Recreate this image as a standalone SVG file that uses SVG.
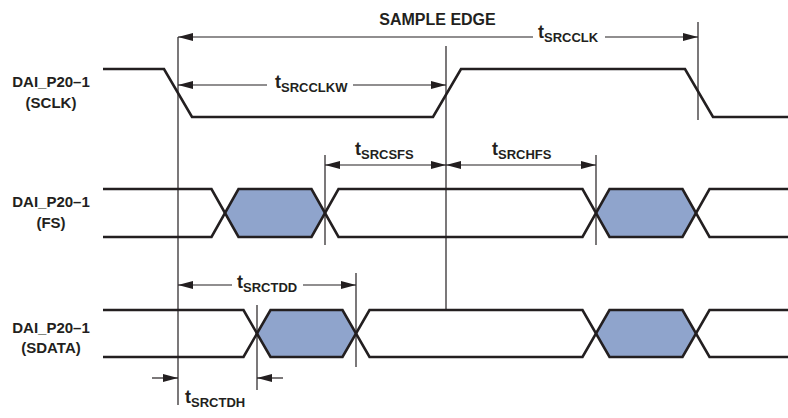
<svg xmlns="http://www.w3.org/2000/svg" width="788" height="418" viewBox="0 0 788 418">
<style>
text{font-family:"Liberation Sans",Arial,Helvetica,sans-serif;font-weight:bold;fill:#231f20}
.lbl{font-size:15px;text-anchor:middle}
.t{font-size:18px}
.s{font-size:13px}
.sig{fill:none;stroke:#231f20;stroke-width:2.6;stroke-linejoin:miter}
.hex{fill:#8FA4CC;stroke:none}
.ref{stroke:#231f20;stroke-width:1.2;fill:none}
.dim{stroke:#231f20;stroke-width:1.2;fill:none}
.a2{marker-end:url(#ah)}
.a1{marker-start:url(#ahs)}
</style>
<defs>
<marker id="ah" markerUnits="userSpaceOnUse" markerWidth="16" markerHeight="9" refX="15" refY="4" orient="auto"><path d="M0,0 L15,4 L0,8 z" fill="#231f20"/></marker>
<marker id="ahs" markerUnits="userSpaceOnUse" markerWidth="16" markerHeight="9" refX="15" refY="4" orient="auto-start-reverse"><path d="M0,0 L15,4 L0,8 z" fill="#231f20"/></marker>
</defs>
<rect width="788" height="418" fill="#ffffff"/>

<g id="label-sclk"><text class="lbl" x="51" y="87">DAI_P20–1</text><text class="lbl" x="51" y="108">(SCLK)</text></g>
<g id="label-fs"><text class="lbl" x="51" y="207">DAI_P20–1</text><text class="lbl" x="51" y="228">(FS)</text></g>
<g id="label-sdata"><text class="lbl" x="51" y="333">DAI_P20–1</text><text class="lbl" x="51" y="353">(SDATA)</text></g>

<g id="sclk"><polyline class="sig" points="103,69 164,69 192,117 433,117 461,69 685,69 713,117 788,117"/></g>

<g id="fs">
<polygon class="hex" points="225,213 238.5,189 311.5,189 325,213 311.5,237 238.5,237"/>
<polygon class="hex" points="596,213 609.5,189 682.5,189 696,213 682.5,237 609.5,237"/>
<polyline class="sig" points="103,189 211.5,189 238.5,237 311.5,237 338.5,189 582.5,189 609.5,237 682.5,237 709.5,189 788,189"/>
<polyline class="sig" points="103,237 211.5,237 238.5,189 311.5,189 338.5,237 582.5,237 609.5,189 682.5,189 709.5,237 788,237"/>
</g>

<g id="sdata">
<polygon class="hex" points="257,333.5 270.5,310 342.5,310 356,333.5 342.5,357 270.5,357"/>
<polygon class="hex" points="596,333.5 609.5,310 682.5,310 696,333.5 682.5,357 609.5,357"/>
<polyline class="sig" points="103,310 243.5,310 270.5,357 342.5,357 369.5,310 582.5,310 609.5,357 682.5,357 709.5,310 788,310"/>
<polyline class="sig" points="103,357 243.5,357 270.5,310 342.5,310 369.5,357 582.5,357 609.5,310 682.5,310 709.5,357 788,357"/>
</g>

<g id="sample-edge"><text x="437.5" y="25" style="font-size:16px;text-anchor:middle">SAMPLE EDGE</text></g>

<g id="connectors">
<line class="ref" x1="178" y1="37" x2="178" y2="405"/>
<line class="ref" x1="446" y1="46" x2="446" y2="309"/>
<line class="ref" x1="698" y1="22" x2="698" y2="120"/>
<line class="ref" x1="325" y1="155" x2="325" y2="245"/>
<line class="ref" x1="596" y1="155" x2="596" y2="245"/>
<line class="ref" x1="257" y1="305" x2="257" y2="390"/>
<line class="ref" x1="356" y1="273" x2="356" y2="367"/>

<line class="dim a1" x1="178" y1="37" x2="533" y2="37"/>
<line class="dim a2" x1="605" y1="37" x2="698" y2="37"/>
<line class="dim a1" x1="178" y1="85" x2="267" y2="85"/>
<line class="dim a2" x1="353" y1="85" x2="446" y2="85"/>
<line class="dim a1 a2" x1="325" y1="165" x2="446" y2="165"/>
<line class="dim a1 a2" x1="446" y1="165" x2="596" y2="165"/>
<line class="dim a1" x1="178" y1="285" x2="232" y2="285"/>
<line class="dim a2" x1="303" y1="285" x2="356" y2="285"/>
<line class="dim a2" x1="152" y1="378" x2="178" y2="378"/>
<line class="dim a2" x1="283" y1="378" x2="257" y2="378"/>
</g>

<g id="t-srcclk"><text x="538" y="38"><tspan class="t">t</tspan><tspan class="s" dy="4">SRCCLK</tspan></text></g>
<g id="t-srcclkw"><text x="275" y="88"><tspan class="t">t</tspan><tspan class="s" dy="4">SRCCLKW</tspan></text></g>
<g id="t-srcsfs"><text x="355" y="155"><tspan class="t">t</tspan><tspan class="s" dy="4">SRCSFS</tspan></text></g>
<g id="t-srchfs"><text x="492" y="155"><tspan class="t">t</tspan><tspan class="s" dy="4">SRCHFS</tspan></text></g>
<g id="t-srctdd"><text x="237" y="288"><tspan class="t">t</tspan><tspan class="s" dy="4">SRCTDD</tspan></text></g>
<g id="t-srctdh"><text x="185" y="403"><tspan class="t">t</tspan><tspan class="s" dy="4">SRCTDH</tspan></text></g>
</svg>
